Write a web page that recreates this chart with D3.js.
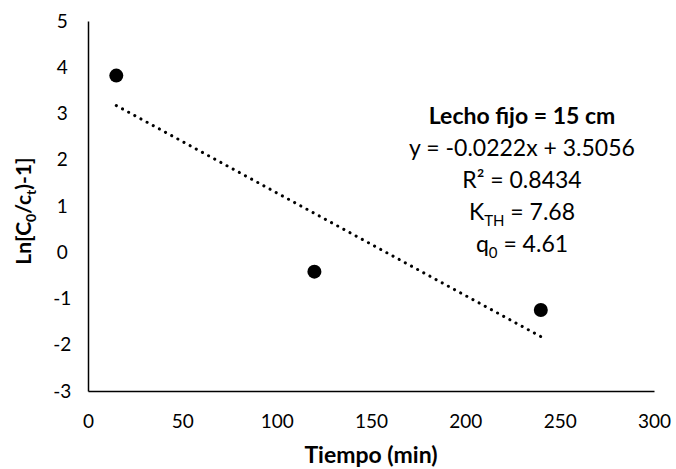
<!DOCTYPE html>
<html><head><meta charset="utf-8">
<script src="https://cdn.jsdelivr.net/npm/d3@7"></script>
<style>body{margin:0;background:#fff}svg{display:block}</style>
</head><body>
<script>
const xValues = [15, 120, 240];
const yValues = [3.82, -0.42, -1.25];
const xTicks = [0, 50, 100, 150, 200, 250, 300];
const yTicks = [-3, -2, -1, 0, 1, 2, 3, 4, 5];
const slope = -0.0222, intercept = 3.5056;
const trendX = [15, 240];
const annotLines = ["Lecho fijo = 15 cm", "y = -0.0222x + 3.5056", "R² = 0.8434", "K_TH = 7.68", "q_0 = 4.61"];

const W = 676, H = 469;
const font = "Lato, 'Open Sans', sans-serif";
const svg = d3.select("body").append("svg").attr("width", W).attr("height", H);
const x = d3.scaleLinear().domain([0, 300]).range([88, 654]);
const y = d3.scaleLinear().domain([-3, 5]).range([391, 21]);

const fmt = d => String(d);
const xAxis = svg.append("g").attr("transform", "translate(0,391)")
  .call(d3.axisBottom(x).tickValues(xTicks).tickFormat(fmt).tickSize(0).tickPadding(23));
const yAxis = svg.append("g").attr("transform", "translate(88,0)")
  .call(d3.axisLeft(y).tickValues(yTicks).tickFormat(fmt).tickSize(0).tickPadding(22));
[xAxis, yAxis].forEach(a => {
  a.select(".domain").attr("stroke", "#000").attr("stroke-width", 1.5);
  a.selectAll("text").attr("font-family", font).attr("font-size", 19).attr("fill", "#000");
});
xAxis.selectAll("text").attr("dy", "0.35em").attr("y", 30);
yAxis.selectAll("text").attr("text-anchor", "middle").attr("dx", "-0.2em");

// trendline
svg.append("line")
  .attr("x1", x(trendX[0])).attr("y1", y(slope * trendX[0] + intercept))
  .attr("x2", x(trendX[1])).attr("y2", y(slope * trendX[1] + intercept))
  .attr("stroke", "#000").attr("stroke-width", 3).attr("stroke-linecap", "round")
  .attr("stroke-dasharray", "0.1 6.9");

// points
svg.selectAll("circle.pt").data(xValues).enter().append("circle")
  .attr("cx", d => x(d)).attr("cy", (d, i) => y(yValues[i])).attr("r", 7).attr("fill", "#000");

// axis titles
svg.append("text").attr("x", 371).attr("y", 463).attr("text-anchor", "middle")
  .attr("font-family", font).attr("font-size", 23).attr("font-weight", "bold").text("Tiempo (min)");
const yt = svg.append("text").attr("transform", "translate(31,211) rotate(-90)").attr("text-anchor", "middle")
  .attr("font-family", font).attr("font-size", 21).attr("font-weight", "bold");
yt.append("tspan").text("Ln[C");
yt.append("tspan").attr("font-size", 14).attr("dy", 5).text("0");
yt.append("tspan").attr("dy", -5).text("/c");
yt.append("tspan").attr("font-size", 14).attr("dy", 5).text("t");
yt.append("tspan").attr("dy", -5).text(")-1]");

// annotation
const ax = 522, ay0 = 124, step = 32;
annotLines.forEach((s, i) => {
  const t = svg.append("text").attr("x", ax).attr("y", ay0 + i * step).attr("text-anchor", "middle")
    .attr("font-family", font).attr("font-size", 23).attr("fill", "#000");
  if (i === 0) t.attr("font-weight", "bold");
  if (s.includes("_")) {
    const [base, rest] = s.split("_");
    const sub = rest.split(" ")[0];
    const tail = rest.slice(sub.length);
    t.append("tspan").text(base);
    t.append("tspan").attr("font-size", 15).attr("dy", 6).text(sub);
    t.append("tspan").attr("dy", -6).text(tail);
  } else t.text(s);
});
</script>
</body></html>
